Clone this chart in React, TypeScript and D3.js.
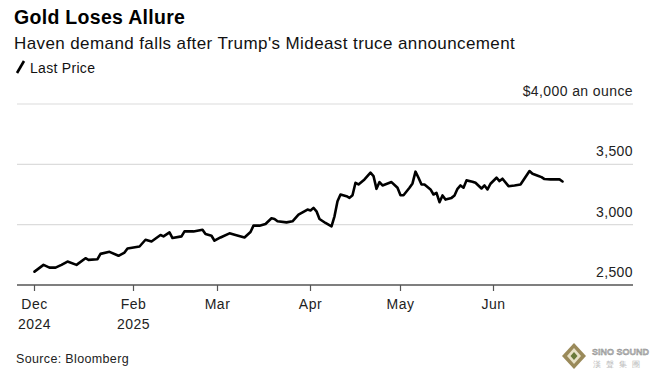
import React from "react";
import * as d3 from "d3";

const dates: string[] = [
  "2024-12-30","2025-01-02","2025-01-04","2025-01-06","2025-01-08","2025-01-10","2025-01-13","2025-01-16","2025-01-17","2025-01-20",
  "2025-01-21","2025-01-24","2025-01-27","2025-01-29","2025-01-30","2025-02-03","2025-02-05","2025-02-07","2025-02-10","2025-02-11",
  "2025-02-13","2025-02-14","2025-02-17","2025-02-18","2025-02-21","2025-02-24","2025-02-25","2025-02-27","2025-02-28","2025-03-02",
  "2025-03-05","2025-03-07","2025-03-10","2025-03-12","2025-03-13","2025-03-15","2025-03-17","2025-03-19","2025-03-20","2025-03-21",
  "2025-03-24","2025-03-26","2025-03-28","2025-03-31","2025-04-01","2025-04-02","2025-04-03","2025-04-04","2025-04-06","2025-04-08",
  "2025-04-09","2025-04-10","2025-04-11","2025-04-13","2025-04-14","2025-04-15","2025-04-16","2025-04-17","2025-04-19","2025-04-21",
  "2025-04-22","2025-04-23","2025-04-24","2025-04-25","2025-04-28","2025-04-30","2025-05-01","2025-05-02","2025-05-04","2025-05-05",
  "2025-05-06","2025-05-07","2025-05-08","2025-05-09","2025-05-11","2025-05-12","2025-05-13","2025-05-14","2025-05-15","2025-05-16",
  "2025-05-18","2025-05-19","2025-05-20","2025-05-21","2025-05-22","2025-05-23","2025-05-25","2025-05-26","2025-05-28","2025-05-29",
  "2025-05-30","2025-05-31","2025-06-02","2025-06-03","2025-06-04","2025-06-06","2025-06-08","2025-06-10","2025-06-13","2025-06-14",
  "2025-06-16","2025-06-17","2025-06-18","2025-06-20","2025-06-23","2025-06-24",
];

const prices: number[] = [
  2611, 2667, 2644, 2644, 2667, 2694, 2667, 2722, 2708, 2714,
  2758, 2775, 2742, 2769, 2803, 2819, 2875, 2861, 2914, 2903,
  2936, 2889, 2903, 2944, 2944, 2958, 2922, 2908, 2867, 2894,
  2928, 2914, 2894, 2939, 2992, 2992, 3006, 3053, 3047, 3028,
  3019, 3028, 3083, 3125, 3117, 3139, 3111, 3047, 3014, 2986,
  3069, 3194, 3250, 3236, 3222, 3244, 3347, 3333, 3375, 3431,
  3403, 3297, 3353, 3325, 3353, 3306, 3244, 3244, 3306, 3342,
  3439, 3389, 3333, 3333, 3292, 3250, 3264, 3186, 3242, 3208,
  3222, 3242, 3297, 3325, 3306, 3367, 3356, 3347, 3300, 3325,
  3292, 3339, 3389, 3361, 3381, 3319, 3325, 3333, 3444, 3422,
  3403, 3394, 3378, 3375, 3375, 3358,
];

const yTicks: number[] = [2500, 3000, 3500, 4000];
const yTickLabels: string[] = ["2,500", "3,000", "3,500", "$4,000 an ounce"];

const xTickDates: string[] = ["2024-12-30", "2025-02-01", "2025-03-01", "2025-04-01", "2025-05-01", "2025-06-01"];
const xTickMonths: string[] = ["Dec", "Feb", "Mar", "Apr", "May", "Jun"];
const xTickYears: string[] = ["2024", "2025", "", "", "", ""];

const W = 661;
const H = 379;
const FONT = "'Liberation Sans', Arial, sans-serif";

export default function App() {
  const parse = d3.timeParse("%Y-%m-%d");
  const data = dates.map((d, i) => ({ date: parse(d) as Date, value: prices[i] }));

  const x = d3
    .scaleTime()
    .domain([parse("2024-12-30") as Date, parse("2025-06-30") as Date])
    .range([34.5, 580.5]);
  const y = d3.scaleLinear().domain([2500, 4000]).range([285, 104]);

  const line = d3
    .line<{ date: Date; value: number }>()
    .x((d) => x(d.date))
    .y((d) => y(d.value))
    .curve(d3.curveLinear);

  const gridLeft = 17;
  const gridRight = 633;

  return (
    <svg width={W} height={H} style={{ position: "absolute", left: 0, top: 0, background: "#fff" }} fontFamily={FONT}>
      <rect x={0} y={0} width={W} height={H} fill="#fff" />
      <text x={14} y={24} fontSize={19.5} fontWeight="bold" fill="#000" letterSpacing={0.3}>
        Gold Loses Allure
      </text>
      <text x={14} y={48.5} fontSize={17} fill="#111" letterSpacing={0.4}>
        Haven demand falls after Trump's Mideast truce announcement
      </text>
      <line x1={17} y1={73} x2={24} y2={61} stroke="#000" strokeWidth={2.6} />
      <text x={30} y={72.5} fontSize={14} fill="#111" letterSpacing={0.3}>
        Last Price
      </text>

      {yTicks.map((t, i) => (
        <g key={t}>
          {i > 0 && <line x1={gridLeft} x2={gridRight} y1={y(t)} y2={y(t)} stroke="#dcdcdc" strokeWidth={1.2} />}
          <text x={gridRight} y={y(t) - 8} textAnchor="end" fontSize={14} fill="#222" letterSpacing={0.4}>
            {yTickLabels[i]}
          </text>
        </g>
      ))}

      <line x1={gridLeft} x2={gridRight} y1={y(2500)} y2={y(2500)} stroke="#555" strokeWidth={1.3} />
      {xTickDates.map((d, i) => {
        const xx = x(parse(d) as Date);
        return (
          <g key={d}>
            <line x1={xx} x2={xx} y1={y(2500)} y2={y(2500) + 6} stroke="#555" strokeWidth={1.2} />
            <text x={xx} y={309} textAnchor="middle" fontSize={14} fill="#222" letterSpacing={0.5}>
              {xTickMonths[i]}
            </text>
            {xTickYears[i] && (
              <text x={xx} y={329} textAnchor="middle" fontSize={14} fill="#222" letterSpacing={0.5}>
                {xTickYears[i]}
              </text>
            )}
          </g>
        );
      })}

      <path d={line(data) || ""} fill="none" stroke="#000" strokeWidth={2.6} strokeLinejoin="round" strokeLinecap="round" />

      <text x={16} y={363} fontSize={12.5} fill="#222" letterSpacing={0.35}>
        Source: Bloomberg
      </text>

      <g transform="translate(574,356)">
        <path d="M0,-13 L12,0 L0,13 L-12,0 Z" fill="#9a8a5a" />
        <path d="M0,-8 L7,0 L0,8 L-7,0 Z" fill="#e9e2c8" />
        <path d="M0,-4 L3.5,0 L0,4 L-3.5,0 Z" fill="#6a7a3a" />
      </g>
      <text x={592} y={355} fontSize={9} fontWeight="bold" fill="#bbb" stroke="#777" strokeWidth={0.3}>
        SINO SOUND
      </text>
      <text x={593} y={367} fontSize={8} fill="#bbb" letterSpacing={5}>
        漢聲集團
      </text>
    </svg>
  );
}
